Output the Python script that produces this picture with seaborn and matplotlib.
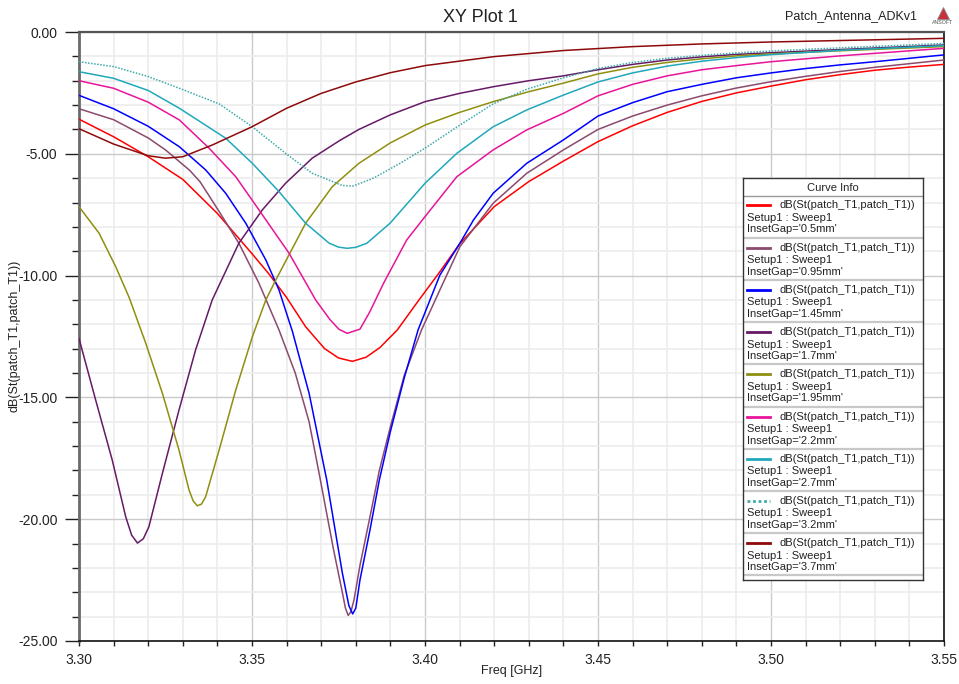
import numpy as np
import pandas as pd
import matplotlib
matplotlib.use("Agg")
import matplotlib.pyplot as plt
import seaborn as sns
from matplotlib.ticker import MultipleLocator, FormatStrFormatter
from matplotlib.lines import Line2D

# ---------------- data ----------------
f_05 = [3.300, 3.310, 3.320, 3.330, 3.340, 3.350, 3.355, 3.360, 3.3655, 3.371, 3.375, 3.379, 3.383, 3.387,
        3.392, 3.398, 3.404, 3.410, 3.420, 3.430, 3.440, 3.450, 3.460, 3.470, 3.480, 3.490, 3.500, 3.510,
        3.520, 3.530, 3.540, 3.550]
db_05 = [-3.58, -4.30, -5.12, -6.05, -7.45, -9.10, -9.95, -10.90, -12.10, -13.00, -13.38, -13.52, -13.35, -12.95,
         -12.23, -11.05, -9.90, -8.70, -7.17, -6.14, -5.30, -4.50, -3.85, -3.30, -2.85, -2.50, -2.22, -1.96,
         -1.75, -1.57, -1.44, -1.33]

f_095 = [3.300, 3.310, 3.320, 3.325, 3.332, 3.335, 3.3405, 3.3462, 3.352, 3.3578, 3.3625, 3.3665, 3.3694,
         3.3735, 3.3761, 3.3770, 3.3778, 3.3786, 3.3795, 3.3812, 3.3841, 3.3868, 3.390, 3.394, 3.399, 3.4043,
         3.4101, 3.4197, 3.4294, 3.440, 3.450, 3.460, 3.470, 3.480, 3.490, 3.500, 3.510, 3.520, 3.530, 3.540,
         3.550]
db_095 = [-3.15, -3.60, -4.35, -4.84, -5.68, -6.15, -7.37, -8.67, -10.31, -12.23, -14.0, -16.0, -18.12,
          -21.2, -23.0, -23.65, -23.95, -23.8, -23.3, -21.9, -19.9, -18.0, -16.2, -14.1, -12.23, -10.59,
          -8.81, -7.03, -5.80, -4.84, -4.00, -3.45, -3.00, -2.62, -2.30, -2.04, -1.82, -1.62, -1.45, -1.30,
          -1.15]

f_145 = [3.300, 3.310, 3.320, 3.329, 3.3366, 3.3424, 3.3482, 3.354, 3.3578, 3.3617, 3.3665, 3.3716, 3.3761,
         3.3780, 3.3791, 3.3800, 3.3812, 3.3841, 3.3868, 3.390, 3.394, 3.398, 3.4043, 3.4101, 3.414, 3.4197,
         3.4294, 3.440, 3.450, 3.460, 3.470, 3.480, 3.490, 3.500, 3.510, 3.520, 3.530, 3.540, 3.550]
db_145 = [-2.60, -3.15, -3.87, -4.71, -5.66, -6.62, -7.85, -9.36, -10.59, -12.3, -14.83, -18.39, -22.2,
          -23.55, -23.89, -23.65, -22.5, -20.44, -18.39, -16.4, -14.2, -12.23, -9.98, -8.67, -7.72, -6.62,
          -5.39, -4.43, -3.45, -2.90, -2.45, -2.15, -1.88, -1.68, -1.50, -1.35, -1.22, -1.08, -0.94]

f_17 = [3.300, 3.3048, 3.3096, 3.3135, 3.3152, 3.3169, 3.3186, 3.3202, 3.3241, 3.3289, 3.3337, 3.3385,
        3.3462, 3.353, 3.3597, 3.3674, 3.3754, 3.3809, 3.390, 3.400, 3.410, 3.420, 3.430, 3.440, 3.450,
        3.460, 3.470, 3.480, 3.490, 3.500, 3.520, 3.550]
db_17 = [-12.58, -15.1, -17.57, -19.9, -20.65, -20.98, -20.8, -20.31, -18.12, -15.52, -13.05, -11.0,
         -8.67, -7.30, -6.21, -5.18, -4.45, -4.00, -3.40, -2.86, -2.52, -2.24, -2.00, -1.80, -1.55,
         -1.33, -1.15, -1.02, -0.92, -0.85, -0.72, -0.53]

f_195 = [3.300, 3.3058, 3.3106, 3.3145, 3.3193, 3.3241, 3.3289, 3.3318, 3.3330, 3.3342, 3.3354, 3.3366,
         3.3405, 3.3453, 3.3501, 3.354, 3.3568, 3.3655, 3.3732, 3.3809, 3.390, 3.400, 3.410, 3.4197, 3.430,
         3.440, 3.450, 3.460, 3.470, 3.480, 3.490, 3.500, 3.520, 3.550]
db_195 = [-7.17, -8.26, -9.63, -10.9, -12.78, -14.83, -17.16, -18.8, -19.25, -19.45, -19.38, -19.08,
          -17.16, -14.7, -12.51, -11.0, -10.2, -7.85, -6.35, -5.39, -4.55, -3.82, -3.30, -2.86, -2.45,
          -2.10, -1.72, -1.45, -1.25, -1.10, -0.98, -0.90, -0.77, -0.60]

f_22 = [3.300, 3.310, 3.320, 3.329, 3.3376, 3.3453, 3.352, 3.3607, 3.3684, 3.3725, 3.3751, 3.3775, 3.3812,
        3.384, 3.388, 3.3947, 3.400, 3.4092, 3.4197, 3.4294, 3.440, 3.450, 3.460, 3.470, 3.480, 3.490,
        3.500, 3.520, 3.550]
db_22 = [-2.00, -2.31, -2.88, -3.61, -4.77, -5.94, -7.30, -9.08, -11.0, -11.8, -12.2, -12.37, -12.2,
         -11.5, -10.32, -8.54, -7.58, -5.94, -4.84, -4.02, -3.34, -2.62, -2.15, -1.80, -1.55, -1.38,
         -1.22, -0.98, -0.67]

f_27 = [3.300, 3.310, 3.320, 3.329, 3.3424, 3.3501, 3.3578, 3.3655, 3.3723, 3.3750, 3.3775, 3.3800, 3.3832,
        3.3899, 3.400, 3.4092, 3.4197, 3.4294, 3.440, 3.450, 3.460, 3.470, 3.480, 3.490, 3.500, 3.520, 3.550]
db_27 = [-1.63, -1.90, -2.40, -3.13, -4.36, -5.39, -6.55, -7.85, -8.67, -8.83, -8.88, -8.84, -8.67,
         -7.85, -6.21, -4.98, -3.89, -3.20, -2.59, -2.05, -1.68, -1.40, -1.20, -1.05, -0.93, -0.75, -0.56]

f_32 = [3.300, 3.310, 3.320, 3.329, 3.3405, 3.3501, 3.3597, 3.3674, 3.3761, 3.3793, 3.3851, 3.3928, 3.400,
        3.4101, 3.4197, 3.4294, 3.440, 3.450, 3.460, 3.470, 3.480, 3.490, 3.500, 3.520, 3.550]
db_32 = [-1.22, -1.42, -1.83, -2.31, -2.95, -3.89, -4.98, -5.80, -6.30, -6.32, -6.00, -5.39, -4.77,
         -3.82, -2.95, -2.35, -1.88, -1.50, -1.25, -1.08, -0.96, -0.86, -0.78, -0.65, -0.47]

f_37 = [3.300, 3.310, 3.320, 3.325, 3.330, 3.3385, 3.350, 3.360, 3.370, 3.380, 3.390, 3.400, 3.420, 3.440,
        3.460, 3.480, 3.500, 3.520, 3.550]
db_37 = [-3.97, -4.60, -5.08, -5.18, -5.12, -4.64, -3.89, -3.13, -2.52, -2.05, -1.67, -1.38, -1.01, -0.76,
         -0.60, -0.49, -0.41, -0.35, -0.26]

gaps = ["0.5mm", "0.95mm", "1.45mm", "1.7mm", "1.95mm", "2.2mm", "2.7mm", "3.2mm", "3.7mm"]
freqs = [f_05, f_095, f_145, f_17, f_195, f_22, f_27, f_32, f_37]
values = [db_05, db_095, db_145, db_17, db_195, db_22, db_27, db_32, db_37]
colors = ["#FF0000", "#8B4A6E", "#0000FF", "#661A66", "#8F8F0F", "#E8149A", "#20A8BC", "#3FA9A9", "#8E0A0A"]

trace_name = "dB(St(patch_T1,patch_T1))"

# ---------------- build long table ----------------
rows = []
for g, fs, vs in zip(gaps, freqs, values):
    for f, v in zip(fs, vs):
        rows.append((g, f, v))
df = pd.DataFrame(rows, columns=["gap", "freq", "dB"])

palette = dict(zip(gaps, colors))
dashes = {g: "" for g in gaps}
dashes["3.2mm"] = (1.0, 1.0)

plt.rcParams["axes.unicode_minus"] = False
plt.rcParams["font.family"] = ["Liberation Sans", "DejaVu Sans"]

fig = plt.figure(figsize=(9.59, 6.84), dpi=100)
W, H = 959, 684
ax = fig.add_axes([79 / W, 43 / H, 865 / W, 609 / H])

sns.lineplot(data=df, x="freq", y="dB", hue="gap", style="gap", palette=palette, dashes=dashes,
             hue_order=gaps, style_order=gaps, sort=False, estimator=None, legend=False,
             linewidth=1.1, ax=ax, zorder=3)

ax.set_xlim(3.30, 3.55)
ax.set_ylim(-25, 0)
ax.xaxis.set_major_locator(MultipleLocator(0.05))
ax.xaxis.set_minor_locator(MultipleLocator(0.01))
ax.yaxis.set_major_locator(MultipleLocator(5))
ax.yaxis.set_minor_locator(MultipleLocator(1))
ax.xaxis.set_major_formatter(FormatStrFormatter("%.2f"))
ax.yaxis.set_major_formatter(FormatStrFormatter("%.2f"))
ax.set_xlabel("")
ax.set_ylabel("")

ax.grid(which="minor", color="#ECECEC", linewidth=1.2, zorder=0)
ax.grid(which="major", color="#CACACA", linewidth=1.0, zorder=0)
ax.set_axisbelow(True)

ax.tick_params(axis="y", which="major", length=10, width=1, direction="out", labelsize=10, pad=5.5,
               color="#222222", labelcolor="#222222")
ax.tick_params(axis="y", which="minor", length=5, width=1, direction="out", color="#222222")
ax.tick_params(axis="x", which="both", length=3.5, width=1, direction="out", labelsize=10, pad=5.5,
               color="#222222", labelcolor="#222222")

ax.spines["left"].set_color("#6A6A6A")
ax.spines["left"].set_linewidth(2.0)
ax.spines["top"].set_color("#555555")
ax.spines["top"].set_linewidth(1.6)
ax.spines["right"].set_color("#111111")
ax.spines["right"].set_linewidth(1.2)
ax.spines["bottom"].set_color("#111111")
ax.spines["bottom"].set_linewidth(1.2)

# titles / labels
fig.text(480 / W, 1 - 17 / H, "XY Plot 1", ha="center", va="center", fontsize=13, color="#222222")
fig.text(917 / W, 1 - 16 / H, "Patch_Antenna_ADKv1", ha="right", va="center", fontsize=9, color="#222222")
fig.text(15 / W, 1 - 336 / H, trace_name, ha="center", va="center", rotation=90, fontsize=9, color="#222222")
fig.text(512 / W, 1 - 671 / H, "Freq [GHz]", ha="center", va="center", fontsize=9, color="#222222")

# small logo
fig.lines.append(Line2D([943 / W], [1 - 13 / H], marker="^", markersize=8, color="#C8303A",
                        markeredgecolor="#8A8A8A", markeredgewidth=0.6, transform=fig.transFigure))
fig.text(943 / W, 1 - 22 / H, "ANSOFT", ha="center", va="center", fontsize=3.8, color="#555555")

# ---------------- legend box ----------------
lx0, ly_top, lw_, lh_ = 743, 178, 180, 402
lax = fig.add_axes([lx0 / W, 1 - (ly_top + lh_) / H, lw_ / W, lh_ / H], zorder=10)
lax.set_xlim(0, lw_)
lax.set_ylim(lh_, 0)
lax.set_xticks([])
lax.set_yticks([])
lax.set_facecolor("white")
for s in lax.spines.values():
    s.set_color("#333333")
    s.set_linewidth(1.0)
lax.text(lw_ / 2, 10, "Curve Info", ha="center", va="center", fontsize=8, color="#222222")
lax.plot([0, lw_], [18.5, 18.5], color="#9A9A9A", lw=1.0)
pitch = 42.2
for i, (g, c) in enumerate(zip(gaps, colors)):
    y0 = 18.5 + pitch * i
    ls = (0, (1.0, 1.0)) if g == "3.2mm" else "-"
    lax.plot([4, 27], [y0 + 9, y0 + 9], color=c, lw=2.0, linestyle=ls)
    lax.text(36, y0 + 9, trace_name, ha="left", va="center", fontsize=8, color="#222222")
    lax.text(4, y0 + 21.5, "Setup1 : Sweep1", ha="left", va="center", fontsize=8, color="#222222")
    lax.text(4, y0 + 33, "InsetGap='%s'" % g, ha="left", va="center", fontsize=8, color="#222222")
    lax.plot([0, lw_], [y0 + pitch - 1, y0 + pitch - 1], color="#C8C8C8", lw=1.6)

fig.savefig("out.png", dpi=100, facecolor="white")
